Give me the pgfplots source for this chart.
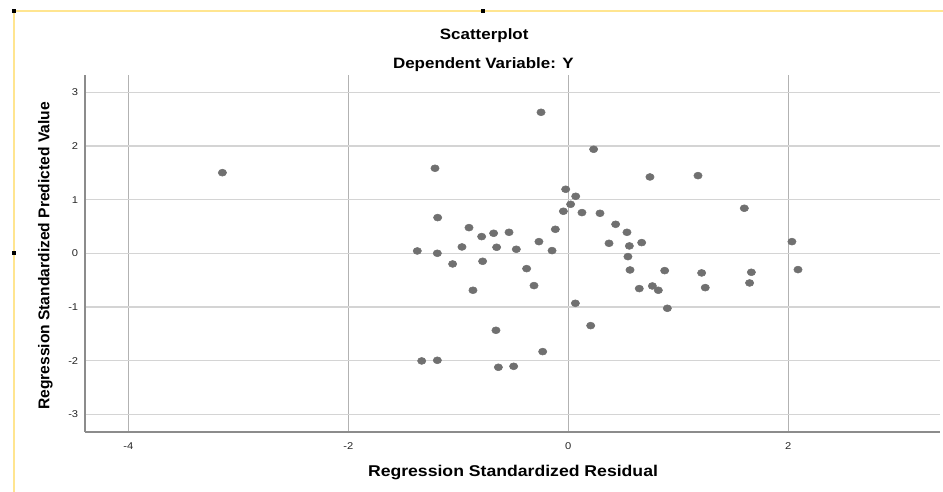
\documentclass[border=0pt]{standalone}
\usepackage{fontspec}
\setmainfont{Liberation Sans}
\usepackage{pgfplots}
\pgfplotsset{compat=1.18}

\definecolor{dotgray}{HTML}{707070}
\definecolor{framey}{HTML}{FFE590}

\pgfplotstableread{
x y
-3.145 1.502
-0.248 2.627
0.230 1.938
-1.212 1.584
-0.024 1.193
0.067 1.062
0.021 0.913
-0.045 0.783
0.124 0.758
0.288 0.745
-1.188 0.665
0.430 0.540
-0.903 0.478
-0.118 0.447
0.533 0.391
-0.788 0.311
-0.679 0.373
-0.539 0.391
-0.267 0.217
0.370 0.186
0.555 0.137
0.667 0.199
-0.967 0.118
-0.652 0.112
-0.473 0.075
-1.373 0.043
-1.191 0.000
-0.148 0.050
0.542 -0.062
-1.052 -0.199
-0.779 -0.149
-0.379 -0.286
0.561 -0.311
-0.312 -0.602
-0.867 -0.689
0.645 -0.658
0.064 -0.932
0.203 -1.348
-0.658 -1.435
-0.233 -1.832
-1.333 -2.006
-1.191 -1.994
-0.636 -2.124
-0.497 -2.106
0.742 1.422
1.179 1.447
1.600 0.839
2.033 0.217
0.876 -0.323
1.212 -0.366
1.664 -0.354
2.088 -0.304
1.648 -0.553
1.245 -0.640
0.764 -0.609
0.818 -0.689
0.900 -1.025
}\resid

\begin{document}
\begin{tikzpicture}
\useasboundingbox (0,0) rectangle (707.25pt,369pt);
% selection frame of the original screenshot
\draw[framey, line width=1.5pt] (10.7pt,0pt) -- (10.7pt,361pt) -- (707.25pt,361pt);
\fill[black] (9.2pt,359.5pt) rectangle ++(3pt,3pt);
\fill[black] (361pt,359.5pt) rectangle ++(3pt,3pt);
\fill[black] (9.2pt,178pt) rectangle ++(3pt,3pt);

\begin{axis}[
    at={(63.75pt,45pt)}, anchor=south west,
    scale only axis,
    width=641.25pt, height=267.75pt,
    xmin=-4.394, xmax=3.379,
    ymin=-3.330, ymax=3.322,
    axis x line*=bottom, axis y line*=left,
    axis line style={color=black!45, line width=1.1pt, -},
    xtick={-4,-2,0,2}, ytick={-3,-2,-1,0,1,2,3},
    major tick length=0pt,
    grid=major,
    major x grid style={color=black!30, line width=0.75pt},
    major y grid style={color=black!17, line width=1pt},
    /pgf/number format/assume math mode=true,
    tick label style={font=\fontsize{7.4}{8}\selectfont, text=black!85, inner sep=0pt},
    xticklabel style={anchor=base, yshift=-13.5pt, xscale=1.13},
    yticklabel style={anchor=east, xshift=-4.9pt, xscale=1.13},
    clip=false,
]
\addplot[only marks, mark=*, mark size=2.6pt,
    mark options={fill=dotgray, draw=dotgray, xscale=1.2}]
    table[x=x, y=y] {\resid};
\end{axis}

\node[anchor=base, xscale=1.13, font=\fontsize{11.25}{13}\selectfont\bfseries]
    at (363.15pt,339pt) {Scatterplot};
\node[anchor=base, xscale=1.13, font=\fontsize{11.25}{13}\selectfont\bfseries]
    at (362.5pt,317.8pt) {Dependent Variable: Y};
\node[anchor=base, xscale=1.13, font=\fontsize{11.7}{13}\selectfont\bfseries]
    at (384.75pt,11.5pt) {Regression Standardized Residual};
\node[anchor=base, rotate=90, font=\fontsize{11.7}{13}\selectfont\bfseries]
    at (37.1pt,177pt) {Regression Standardized Predicted Value};
\end{tikzpicture}
\end{document}
